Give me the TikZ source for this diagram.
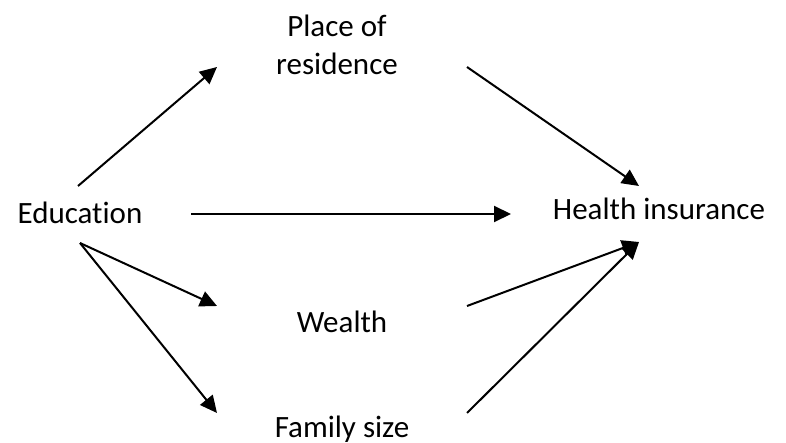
\documentclass[tikz,border=0pt]{standalone}
\usepackage{fontspec}
\setmainfont{Carlito}[Ligatures={NoCommon}]
\usetikzlibrary{arrows.meta}
\tikzset{
  lbl/.style={inner sep=0pt,anchor=base,align=center,font=\fontsize{15.5}{19}\selectfont},
  arr/.style={line width=1pt,-{Triangle[length=8.5pt,width=8pt]}}
}
\begin{document}
\begin{tikzpicture}[x=0.5pt,y=-0.5pt]
\useasboundingbox (0,0) rectangle (786,443);
% variables
\node[lbl] (edu) at (80,223) {Education};
\node[lbl] (place) at (337,75) {Place of\\residence};
\node[lbl] (wealth) at (342,332) {Wealth};
\node[lbl] (family) at (342,437) {Family size};
\node[lbl] (health) at (659,220) {Health insurance};
% paths
\draw[arr] ([shift={(-2,-37)}]edu.base) -- ([shift={(-120,-8)}]place.base);
\draw[arr] ([shift={(130,-8)}]place.base) -- ([shift={(-20,-34)}]health.base);
\draw[arr] ([shift={(111,-9)}]edu.base) -- ([shift={(-148,-6)}]health.base);
\draw[arr] ([shift={(0,20)}]edu.base) -- ([shift={(-125,-26)}]wealth.base);
\draw[arr] ([shift={(0,20)}]edu.base) -- ([shift={(-125,-24)}]family.base);
\draw[arr] ([shift={(125,-26)}]wealth.base) -- ([shift={(-20,22)}]health.base);
\draw[arr] ([shift={(125,-24)}]family.base) -- ([shift={(-20,22)}]health.base);
\end{tikzpicture}
\end{document}
